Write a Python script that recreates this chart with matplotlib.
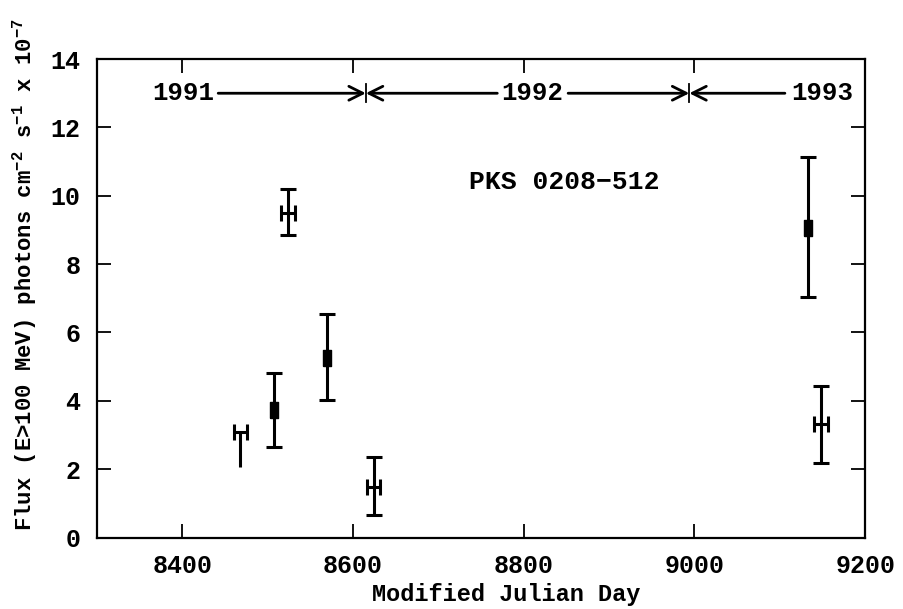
import matplotlib
matplotlib.use("Agg")
import matplotlib.pyplot as plt
import numpy as np

# ---- data ----
mjd = [8468, 8507, 8524, 8570, 8624, 9133, 9148]
flux = [3.08, 3.74, 9.50, 5.26, 1.47, 9.07, 3.32]
err_lo = [1.03, 1.09, 0.65, 1.25, 0.81, 2.03, 1.13]
err_hi = [0.00, 1.08, 0.69, 1.29, 0.88, 2.05, 1.12]
kind = ['H', 'box', 'H', 'box', 'H', 'box', 'H']
x_halfwidth = 8
year_labels = ['1991', '1992', '1993']
year_label_x = [8401, 8810, 9150]
year_bounds = [8615, 8994]
year_y = 13.0
source = 'PKS 0208\u2212512'
xticks = [8400, 8600, 8800, 9000, 9200]
yticks = [0, 2, 4, 6, 8, 10, 12, 14]

FONT = 'Liberation Mono'
plt.rcParams['font.family'] = [FONT, 'DejaVu Sans Mono']
plt.rcParams['font.weight'] = 'bold'
plt.rcParams['mathtext.fontset'] = 'custom'
plt.rcParams['mathtext.rm'] = 'Liberation Mono:bold'
plt.rcParams['mathtext.it'] = 'Liberation Mono:bold'
plt.rcParams['mathtext.bf'] = 'Liberation Mono:bold'

fig = plt.figure(figsize=(9.04, 6.09), dpi=100)
ax = fig.add_axes([0.1073, 0.1174, 0.957 - 0.1073, 0.903 - 0.1174])

lw = 2.2
for x, y, lo, hi, k in zip(mjd, flux, err_lo, err_hi, kind):
    cap = 0 if hi == 0 else 6
    ax.errorbar([x], [y], yerr=[[lo], [hi]], fmt='none', ecolor='black',
                elinewidth=lw, capsize=cap, capthick=lw)
    if k == 'H':
        ax.errorbar([x], [y], xerr=[[x_halfwidth], [x_halfwidth]], fmt='none',
                    ecolor='black', elinewidth=lw, capsize=5.5, capthick=lw)
    else:
        ax.plot([x], [y], marker=[(-0.55, -1), (0.55, -1), (0.55, 1), (-0.55, 1), (-0.55, -1)],
                markersize=11, color='black', linestyle='none')

ax.set_xlim(8300, 9200)
ax.set_ylim(0, 14)
ax.set_xticks(xticks)
ax.set_yticks(yticks)
ax.tick_params(direction='in', length=10, width=1.3, top=True, right=True,
               labelsize=18, pad=12)
for lab in ax.get_xticklabels() + ax.get_yticklabels():
    lab.set_fontweight('bold')
for s in ax.spines.values():
    s.set_linewidth(1.6)

ax.set_xlabel('Modified Julian Day', fontsize=17, fontweight='bold')
ax.xaxis.set_label_coords(0.533, -0.095)
ax.set_ylabel(r'Flux (E>100 MeV) photons cm$^{-2}$ s$^{-1}$ x 10$^{-7}$',
              fontsize=16, fontweight='bold')
ax.yaxis.set_label_coords(-0.076, 0.55)

# year annotation
for lab, xx in zip(year_labels, year_label_x):
    ax.text(xx, year_y, lab, ha='center', va='center', fontsize=18.5, fontweight='bold')
arrow_kw = dict(arrowstyle='->,head_length=1.0,head_width=0.5', color='black', lw=2.0,
                shrinkA=0, shrinkB=0)
starts = [8442, 8769, 8852, 9106]
ends = [year_bounds[0], year_bounds[0], year_bounds[1], year_bounds[1]]
for s0, e0 in zip(starts, ends):
    ax.annotate('', xy=(e0, year_y), xytext=(s0, year_y), arrowprops=arrow_kw)
for b in year_bounds:
    ax.plot([b, b], [year_y - 0.27, year_y + 0.27], color='black', lw=1.3)

ax.text(8847, 10.4, source, ha='center', va='center', fontsize=19, fontweight='bold')

fig.savefig('out.png', dpi=100)
